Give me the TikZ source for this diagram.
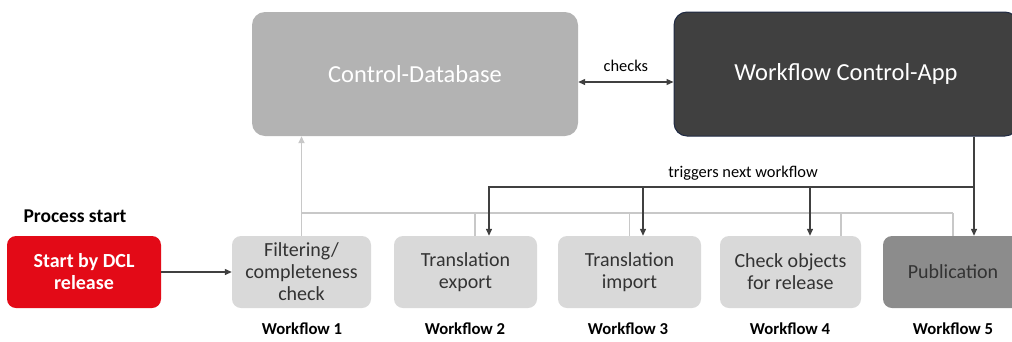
\documentclass[tikz,border=0pt]{standalone}
\usepackage{fontspec}
\setmainfont{Carlito}
\usetikzlibrary{arrows.meta,calc}
\definecolor{dclred}{HTML}{E30A17}
\definecolor{boxgray}{HTML}{D9D9D9}
\definecolor{dbgray}{HTML}{B3B3B3}
\definecolor{appdark}{HTML}{404040}
\definecolor{appedge}{HTML}{1F2A44}
\definecolor{pubgray}{HTML}{8C8C8C}
\definecolor{lightline}{HTML}{C8C8C8}
\definecolor{darkline}{HTML}{404040}
\definecolor{txt}{HTML}{333333}
\tikzset{
  bigbox/.style={rounded corners=13pt, minimum height=124pt, inner sep=0pt, font=\fontsize{24.5}{28}\selectfont, text=white},
  wfbox/.style={rounded corners=9pt, fill=boxgray, minimum height=72pt, inner sep=0pt, align=center, font=\fontsize{20}{22}\selectfont, text=txt},
  wflabel/.style={font=\bfseries\fontsize{16.7}{19}\selectfont, text=black},
  lightconn/.style={draw=lightline, line width=1.6pt},
  darkconn/.style={draw=darkline, line width=1.3pt},
  tip/.style={-{Triangle[length=7pt,width=6pt]}},
  small/.style={font=\fontsize{16.4}{19}\selectfont, text=black},
}
\begin{document}
\begin{tikzpicture}[x=1pt,y=-1pt]
\useasboundingbox (0,0) rectangle (1012,341);
% big boxes
\node[bigbox, fill=dbgray, minimum width=326pt] (db) at (415,74) {Control-Database};
\node[bigbox, fill=appdark, draw=appedge, line width=1pt, minimum width=344pt] (app) at (846,74) {Workflow Control-App};
% bottom row
\node[wfbox, fill=dclred, text=white, font=\bfseries\fontsize{20}{22}\selectfont, minimum width=154pt] (start) at (84,272) {Start by DCL\\release};
\node[wfbox, minimum width=139pt] (filt) at (301.5,272) {Filtering/\\completeness\\check};
\node[wfbox, minimum width=143pt] (exp) at (465.5,272) {Translation\\export};
\node[wfbox, minimum width=143pt] (imp) at (629.5,272) {Translation\\import};
\node[wfbox, minimum width=141pt] (chk) at (790.5,272) {Check objects\\for release};
\node[wfbox, fill=pubgray, text=txt, minimum width=140pt] (pub) at (953,272) {Publication};
% labels
\node[font=\bfseries\fontsize{19.5}{22}\selectfont] (ps) at (75,216) {Process start};
\node[wflabel] (w1) at (302,329) {Workflow 1};
\node[wflabel] (w2) at (465,329) {Workflow 2};
\node[wflabel] (w3) at (628,329) {Workflow 3};
\node[wflabel] (w4) at (790,329) {Workflow 4};
\node[wflabel] (w5) at (953,329) {Workflow 5};
% light connectors (to database)
\coordinate (busy) at (0,213);
\draw[lightconn, tip] (filt.north) -- (filt.north |- db.south);
\draw[lightconn] (filt.north |- busy) -- (pub.north |- busy);
\draw[lightconn] ([xshift=9.5pt]exp.north) -- ([xshift=9.5pt]exp.north |- busy);
\draw[lightconn] (imp.north) -- (imp.north |- busy);
\draw[lightconn] ([xshift=50.5pt]chk.north) -- ([xshift=50.5pt]chk.north |- busy);
\draw[lightconn] (pub.north) -- (pub.north |- busy);
% start -> filtering
\draw[darkconn, tip] (start) -- (filt);
% checks
\draw[darkconn, {Triangle[length=7pt,width=6pt]}-{Triangle[length=7pt,width=6pt]}] ([yshift=-8pt]db.east) -- ([yshift=-8pt]app.west) node[midway, above=6pt, small] (chkl) {checks};
% triggers
\coordinate (trig) at (974,187);
\draw[darkconn, tip] (app.south -| trig) -- (pub.north -| trig);
\draw[darkconn, tip] (trig) -| ([xshift=23.5pt]exp.north);
\draw[darkconn, tip] ([xshift=13.5pt]imp.north |- trig) -- ([xshift=13.5pt]imp.north);
\draw[darkconn, tip] ([xshift=19.5pt]chk.north |- trig) -- ([xshift=19.5pt]chk.north);
\node[small] (trl) at (743,173) {triggers next workflow};
\end{tikzpicture}
\end{document}
